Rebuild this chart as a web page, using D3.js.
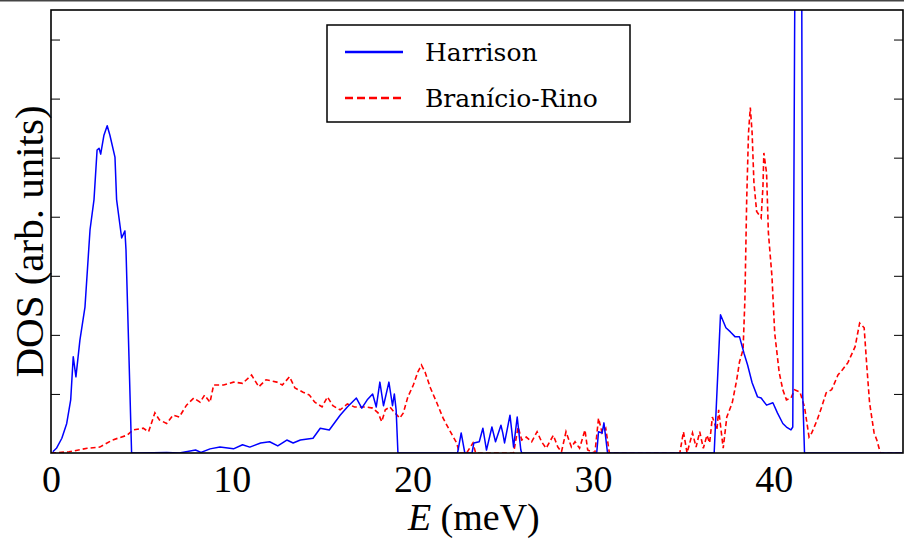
<!DOCTYPE html>
<html>
<head>
<meta charset="utf-8">
<title>DOS</title>
<script src="https://d3js.org/d3.v7.min.js"></script>
<style>
	body { margin: 0; background: white; }
	text { font-family: "Liberation Serif", serif; fill: black; }
</style>
</head>
<body>
<script>
// series (E in meV, DOS in arbitrary units)
var harrisonE = [
	0.1, 0.3, 0.6, 0.87, 1.09, 1.23, 1.38, 1.6, 1.88, 2.16, 2.38, 2.55, 2.66, 2.75, 2.93, 3.11, 3.26, 3.54, 3.63, 3.91, 4.09, 4.15, 4.32, 4.46,
	4.9, 6.4, 7.1, 8.0, 8.3, 8.8, 9.35, 10.1, 10.6, 11.0, 11.6, 12.1, 12.55, 13.05, 13.4, 13.8,
	14.5, 14.9, 15.4, 16.0, 16.4, 16.9, 17.2, 17.5, 17.8, 18.0, 18.2, 18.4, 18.7, 18.9, 19.0, 19.1, 19.2,
	22.5, 22.7, 22.9, 23.3, 23.4, 23.7, 23.9, 24.1, 24.4, 24.6, 24.9, 25.0, 25.1, 25.4, 25.6, 25.8, 26.0, 26.05,
	30.2, 30.3, 30.5, 30.6, 30.8,
	36.7, 37.05, 37.35, 37.6, 37.85, 38.1, 38.35, 38.55, 38.8, 39.1, 39.3, 39.6, 39.95, 40.2, 40.5, 40.7, 40.95, 41.05,
	41.15, 41.35, 41.55, 41.6, 41.7, 47.1];
var harrisonDos = [
	0.02, 0.08, 0.25, 0.5, 0.9, 1.63, 1.29, 1.91, 2.47, 3.78, 4.29, 5.13, 5.16, 5.06, 5.38, 5.54, 5.38, 5.01, 4.29, 3.64, 3.76, 3.44, 1.57, 0,
	0, 0.01, 0, 0.05, 0.01, 0.07, 0.1, 0.07, 0.14, 0.1, 0.17, 0.19, 0.12, 0.22, 0.17, 0.22,
	0.25, 0.42, 0.39, 0.64, 0.78, 0.93, 0.76, 0.9, 1.0, 0.78, 1.2, 0.8, 1.2, 0.8, 1.0, 0.73, 0,
	0, 0.34, 0, 0, 0.17, 0.19, 0.42, 0.05, 0.44, 0.19, 0.47, 0.34, 0.17, 0.64, 0.1, 0.61, 0.05, 0,
	0, 0.36, 0.34, 0.51, 0,
	0, 2.34, 2.12, 2.05, 1.97, 1.97, 1.69, 1.49, 1.19, 0.95, 0.93, 0.81, 0.85, 0.68, 0.5, 0.44, 0.39, 0.44,
	7.0, 18, 7.5, 1.0, 0, 0];

var branicioE = [0, 1.0, 2.0, 2.7, 3.4, 4.2, 4.55, 5.1, 5.4, 5.75, 6.0, 6.4, 6.75, 7.1, 7.5, 7.9, 8.25, 8.5, 8.8, 9.0, 9.55, 10.1, 10.6,
	11.1, 11.5, 11.9, 12.5, 12.8, 13.2, 13.5, 13.95, 14.3, 14.6, 15.0, 15.3, 15.6, 16.0, 16.4, 16.8, 17.4, 17.8, 18.1, 18.3, 18.5,
	18.75, 19.0, 19.3, 19.5, 19.75, 20.05, 20.3, 20.5, 20.7, 21.0, 21.35, 21.7, 22.1, 22.45, 22.6, 23.0, 23.35, 23.5,
	25.6, 25.85, 26.05, 26.3, 26.6, 26.9, 27.15, 27.4, 27.8, 28.05, 28.25, 28.5, 28.8, 29.0, 29.25, 29.55, 29.7, 30.1, 30.3,
	30.5, 30.7, 30.9, 34.8, 35.0, 35.2, 35.5, 35.7, 35.9, 36.1, 36.3, 36.45, 36.6, 36.85, 36.95, 37.2, 37.4, 37.7, 37.95,
	38.1, 38.3, 38.4, 38.5, 38.6, 38.7, 38.8, 38.9, 39.05, 39.3, 39.4, 39.45, 39.6, 39.7, 39.9, 40.05, 40.3, 40.5, 40.7,
	40.95, 41.15, 41.45, 41.7, 41.95, 42.1, 42.4, 42.65, 42.9, 43.2, 43.55, 43.8, 44.1, 44.5, 44.75, 45.0, 45.15, 45.3,
	45.55, 45.7, 45.9, 47.1];
var branicioDos = [0, 0.02, 0.08, 0.1, 0.22, 0.3, 0.39, 0.42, 0.36, 0.68, 0.56, 0.5, 0.64, 0.61, 0.81, 0.93, 0.86, 0.98, 0.86, 1.15, 1.15, 1.2, 1.18,
	1.32, 1.12, 1.24, 1.2, 1.15, 1.29, 1.1, 1.03, 0.98, 0.86, 0.78, 0.95, 0.8, 0.73, 0.83, 0.78, 0.78, 0.76, 0.68, 0.53, 0.73,
	0.78, 0.69, 0.59, 0.68, 0.95, 1.15, 1.37, 1.49, 1.37, 1.1, 0.85, 0.59, 0.36, 0.17, 0, 0, 0.17, 0,
	0, 0.44, 0.22, 0.27, 0.19, 0.36, 0.19, 0.08, 0.3, 0.1, 0.02, 0.36, 0.1, 0.19, 0.08, 0.39, 0.05, 0, 0.59,
	0.34, 0.42, 0, 0, 0.36, 0, 0.34, 0.1, 0.36, 0.08, 0.3, 0.17, 0.61, 0.39, 0.73, 0.08, 0.61, 0.85, 1.24,
	1.54, 1.75, 2.59, 4.29, 5.42, 5.85, 5.42, 4.58, 4.09, 3.98, 4.51, 5.08, 4.74, 3.73, 2.98, 2.03, 1.36, 1.07, 0.9,
	0.93, 1.07, 1.03, 0.78, 0.27, 0.34, 0.56, 0.78, 1.02, 1.07, 1.32, 1.41, 1.53, 1.8, 2.2, 2.12, 1.46, 0.85,
	0.34, 0.22, 0, 0];

var xTicks = [0, 10, 20, 30, 40];
var yTicks = [1, 2, 3, 4, 5, 6, 7];
var legendNames = ["Harrison", "Branício-Rino"];

var W = 904, H = 541;
var margin = { top: 10, right: 1, bottom: 88, left: 51 };
var pw = W - margin.left - margin.right;
var ph = H - margin.top - margin.bottom;

var svg = d3.select("body").append("svg")
	.attr("width", W)
	.attr("height", H);

// thin rule at the very top of the figure
svg.append("line")
	.attr("x1", 0).attr("x2", W)
	.attr("y1", 0.8).attr("y2", 0.8)
	.attr("stroke", "#444").attr("stroke-width", 1.6);

var g = svg.append("g")
	.attr("transform", "translate(" + margin.left + "," + margin.top + ")");

var x = d3.scaleLinear().domain([0, 47.15]).range([0, pw]);
var y = d3.scaleLinear().domain([0, 7.5]).range([ph, 0]);

g.append("clipPath").attr("id", "clip")
	.append("rect").attr("width", pw).attr("height", ph);

function series(E, D) {
	return E.map(function(e, i) { return [e, D[i]]; });
}

var line = d3.line()
	.x(function(d) { return x(d[0]); })
	.y(function(d) { return y(d[1]); });

var plot = g.append("g").attr("clip-path", "url(#clip)");

plot.append("path")
	.datum(series(branicioE, branicioDos))
	.attr("d", line)
	.attr("fill", "none")
	.attr("stroke", "#ff0000")
	.attr("stroke-width", 1.6)
	.attr("stroke-dasharray", "5,3");

plot.append("path")
	.datum(series(harrisonE, harrisonDos))
	.attr("d", line)
	.attr("fill", "none")
	.attr("stroke", "#0000ff")
	.attr("stroke-width", 1.5)
	.attr("stroke-linejoin", "round");

// y ticks on both sides, pointing inwards, no labels
g.append("g")
	.call(d3.axisRight(y).tickValues(yTicks).tickSize(9).tickFormat(""))
	.call(function(a) { a.select(".domain").remove(); });
g.append("g")
	.attr("transform", "translate(" + pw + ",0)")
	.call(d3.axisLeft(y).tickValues(yTicks).tickSize(9).tickFormat(""))
	.call(function(a) { a.select(".domain").remove(); });

// x tick labels only
var xa = g.append("g")
	.attr("transform", "translate(0," + ph + ")")
	.call(d3.axisBottom(x).tickValues(xTicks).tickSize(0).tickFormat(d3.format("d")));
xa.select(".domain").remove();
xa.selectAll("text")
	.attr("dy", null)
	.attr("y", 39)
	.style("font-family", "'Liberation Serif', serif")
	.style("font-size", "38px");

g.append("rect")
	.attr("width", pw).attr("height", ph)
	.attr("fill", "none")
	.attr("stroke", "black")
	.attr("stroke-width", 1.6);

var xl = svg.append("text")
	.attr("x", margin.left + x(23.4))
	.attr("y", 530)
	.attr("text-anchor", "middle")
	.style("font-size", "38px");
xl.append("tspan").style("font-style", "italic").text("E");
xl.append("tspan").text(" (meV)");

svg.append("text")
	.attr("transform", "translate(43," + (margin.top + ph / 2 + 10) + ") rotate(-90)")
	.attr("text-anchor", "middle")
	.style("font-size", "41px")
	.text("DOS (arb. units)");

// legend
var lg = svg.append("g").attr("transform", "translate(327,25)");
lg.append("rect")
	.attr("width", 303).attr("height", 97)
	.attr("fill", "white")
	.attr("stroke", "black")
	.attr("stroke-width", 1.5);
var styles = [{ c: "#0000ff", dash: null }, { c: "#ff0000", dash: "8,4" }];
legendNames.forEach(function(name, i) {
	var yy = 27 + i * 46;
	lg.append("line")
		.attr("x1", 18).attr("x2", 76)
		.attr("y1", yy).attr("y2", yy)
		.attr("stroke", styles[i].c)
		.attr("stroke-width", 2.6)
		.attr("stroke-dasharray", styles[i].dash);
	lg.append("text")
		.attr("x", 98).attr("y", yy + 9)
		.style("font-family", "'DejaVu Serif', serif")
		.style("font-size", "25px")
		.text(name);
});
</script>
</body>
</html>
